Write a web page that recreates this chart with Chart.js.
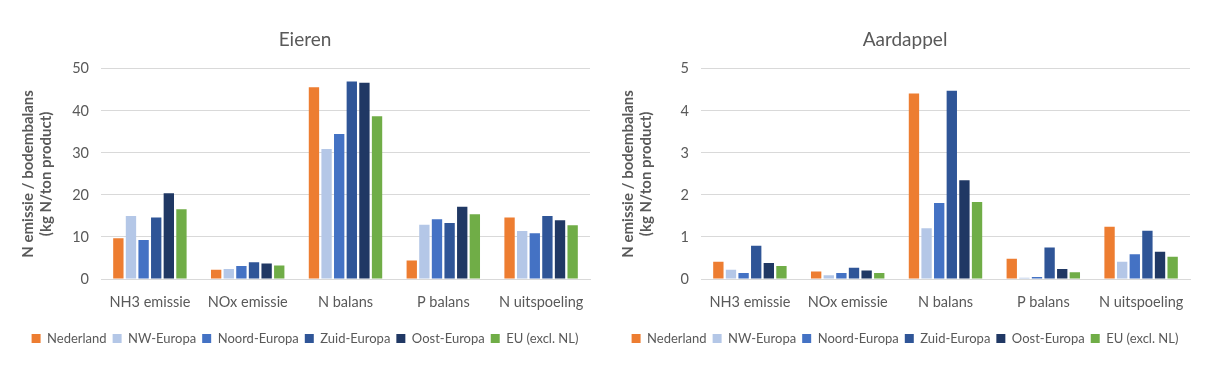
<!DOCTYPE html>
<html>
<head>
<meta charset="utf-8">
<script src="https://cdn.jsdelivr.net/npm/chart.js@4/dist/chart.umd.min.js"></script>
<style>
  body { margin: 0; background: #fff; width: 1210px; height: 372px; position: relative; overflow: hidden; }
  .box { position: absolute; top: 0; width: 610px; height: 372px; }
</style>
</head>
<body>
<div class="box" style="left:0"><canvas id="eieren"></canvas></div>
<div class="box" style="left:600px"><canvas id="aardappel"></canvas></div>
<script>
// categorieën en reeksen
const categories = ['NH3 emissie', 'NOx emissie', 'N balans', 'P balans', 'N uitspoeling'];
const regions = ['Nederland', 'NW-Europa', 'Noord-Europa', 'Zuid-Europa', 'Oost-Europa', 'EU (excl. NL)'];

// Eieren (kg N/ton product), per regio
const eierenNederland = [9.7, 2.2, 45.6, 4.4, 14.6];
const eierenNW = [15.0, 2.4, 30.9, 12.9, 11.4];
const eierenNoord = [9.3, 3.1, 34.5, 14.2, 10.9];
const eierenZuid = [14.6, 4.0, 47.0, 13.3, 15.0];
const eierenOost = [20.4, 3.7, 46.7, 17.2, 14.0];
const eierenEU = [16.6, 3.2, 38.7, 15.4, 12.8];

// Aardappel (kg N/ton product), per regio
const aardNederland = [0.41, 0.18, 4.41, 0.48, 1.24];
const aardNW = [0.22, 0.09, 1.21, 0.03, 0.41];
const aardNoord = [0.14, 0.14, 1.81, 0.05, 0.59];
const aardZuid = [0.79, 0.27, 4.48, 0.75, 1.15];
const aardOost = [0.38, 0.20, 2.35, 0.24, 0.65];
const aardEU = [0.31, 0.14, 1.83, 0.16, 0.53];

const eierenTicks = [0, 10, 20, 30, 40, 50];
const aardTicks = [0, 1, 2, 3, 4, 5];

const colors = ['#ED7D31', '#B4C7E7', '#4472C4', '#2F5597', '#203864', '#70AD47'];
const textColor = '#595959';
const gridColor = '#D9D9D9';
const fontFamily = 'Lato, "Open Sans", sans-serif';

function makeChart(id, title, series, ticks) {
  const datasets = series.map((values, i) => ({
    label: regions[i],
    data: values,
    backgroundColor: colors[i],
    borderWidth: 0,
    barPercentage: 0.82,
    categoryPercentage: 0.774
  }));

  new Chart(document.getElementById(id), {
    type: 'bar',
    data: { labels: categories, datasets: datasets },
    options: {
      responsive: true,
      maintainAspectRatio: false,
      animation: false,
      layout: { padding: { left: 20, right: 20, top: 0, bottom: 17 } },
      plugins: {
        title: {
          display: true,
          text: title,
          color: textColor,
          font: { family: fontFamily, size: 19, weight: 'normal' },
          padding: { top: 28, bottom: 18 }
        },
        legend: {
          position: 'bottom',
          labels: {
            color: textColor,
            font: { family: fontFamily, size: 13 },
            boxWidth: 9,
            boxHeight: 9,
            padding: 6
          }
        },
        tooltip: { enabled: false }
      },
      scales: {
        x: {
          grid: { display: false },
          border: { color: gridColor },
          ticks: { color: textColor, font: { family: fontFamily, size: 14.5 }, padding: 7 },
          afterFit: scale => { scale.height = 47; }
        },
        y: {
          min: ticks[0],
          max: ticks[ticks.length - 1],
          afterBuildTicks: scale => { scale.ticks = ticks.map(v => ({ value: v })); },
          grid: { color: gridColor, drawTicks: false },
          border: { display: false },
          ticks: { color: textColor, font: { family: fontFamily, size: 14.5 }, padding: 12 },
          title: {
            display: true,
            text: ['N emissie / bodembalans', '(kg N/ton product)'],
            color: textColor,
            font: { family: fontFamily, size: 15, weight: 'bold', lineHeight: 1.15 },
            padding: { top: 0, bottom: 0 }
          },
          afterFit: scale => { scale.width = 81; }
        }
      }
    }
  });
}

makeChart('eieren', 'Eieren',
  [eierenNederland, eierenNW, eierenNoord, eierenZuid, eierenOost, eierenEU], eierenTicks);
makeChart('aardappel', 'Aardappel',
  [aardNederland, aardNW, aardNoord, aardZuid, aardOost, aardEU], aardTicks);
</script>
</body>
</html>
